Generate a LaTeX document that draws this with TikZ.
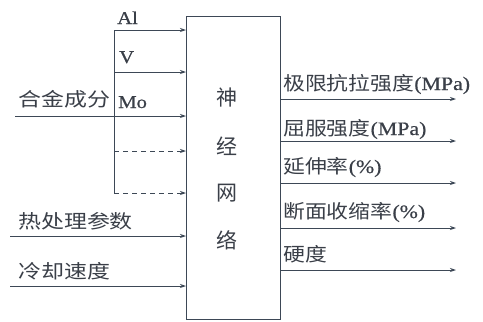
\documentclass[tikz,border=0pt]{standalone}
\usepackage{fontspec}
\setmainfont{Liberation Serif}
\newfontfamily\latf[FakeStretch=1.15,FakeBold=0.6]{Liberation Serif}
\newfontfamily\cjk[FakeStretch=1.15]{Noto Sans CJK SC}
\newfontfamily\cjkbox{Noto Sans CJK SC}
\newcommand{\lt}[1]{{\latf #1}}
\usetikzlibrary{arrows.meta}
\definecolor{ln}{HTML}{3D4856}
\definecolor{tx}{HTML}{3A3F48}
\begin{document}
\begin{tikzpicture}[x=1pt,y=-1pt,
  arr/.style={draw=ln,line width=0.9pt,-{Stealth[length=6pt,width=4pt]}},
  plain/.style={draw=ln,line width=0.9pt},
  dsh/.style={arr,dash pattern=on 5pt off 4pt},
  lab/.style={anchor=base west,inner sep=0pt,text=tx,font=\fontsize{19}{19}\selectfont\cjk},
  leftlab/.style={lab,xscale=1.05},
  latlab/.style={anchor=base west,inner sep=0pt,text=tx,font=\fontsize{18}{18}\selectfont\latf},
  boxch/.style={inner sep=0pt,text=tx,font=\fontsize{21}{21}\selectfont\cjkbox}]
\useasboundingbox (0,0) rectangle (483,322);
\fill[white] (0,0) rectangle (483,322);
\node[draw=ln,line width=0.9pt,anchor=north west,minimum width=94pt,minimum height=303pt,inner sep=0pt] (nn) at (186,16) {};
% box text
\node[boxch] (c1) at (227,98) {神};
\node[boxch] (c2) at (227,146) {经};
\node[boxch] (c3) at (227,193) {网};
\node[boxch] (c4) at (227,240) {络};
% input coordinates
\coordinate (al) at (114,30);
\coordinate (v) at (114,72);
\coordinate (mo) at (15,116);
\coordinate (d1) at (114,151);
\coordinate (d2) at (114,193);
\coordinate (ht) at (10,236);
\coordinate (cr) at (10,286);
\draw[plain] (al) -- (d2);
\draw[arr] (al) -- (al -| nn.west);
\draw[arr] (v) -- (v -| nn.west);
\draw[arr] (mo) -- (mo -| nn.west);
\draw[dsh] (d1) -- (d1 -| nn.west);
\draw[dsh] (d2) -- (d2 -| nn.west);
\draw[arr] (ht) -- (ht -| nn.west);
\draw[arr] (cr) -- (cr -| nn.west);
% input labels
\node[latlab] (tal) at (117,24) {Al};
\node[latlab] (tv) at (119,63) {V};
\node[latlab] (tmo) at (118,108) {Mo};
\node[leftlab] (thj) at (18,106) {合金成分};
\node[leftlab] (tht) at (18,228) {热处理参数};
\node[leftlab] (tcr) at (18,278) {冷却速度};
% outputs
\coordinate (o1) at (456,99);
\coordinate (o2) at (456,141);
\coordinate (o3) at (456,183);
\coordinate (o4) at (456,228);
\coordinate (o5) at (456,270);
\foreach \o in {o1,o2,o3,o4,o5} \draw[arr] (\o -| nn.east) -- (\o);
\node[lab] (to1) at (283,90) {极限抗拉强度\lt{(MPa)}};
\node[lab] (to2) at (283,135) {屈服强度\lt{(MPa)}};
\node[lab] (to3) at (283,173) {延伸率\lt{(\%)}};
\node[lab] (to4) at (283,218) {断面收缩率\lt{(\%)}};
\node[lab] (to5) at (283,261) {硬度};
\end{tikzpicture}
\end{document}
